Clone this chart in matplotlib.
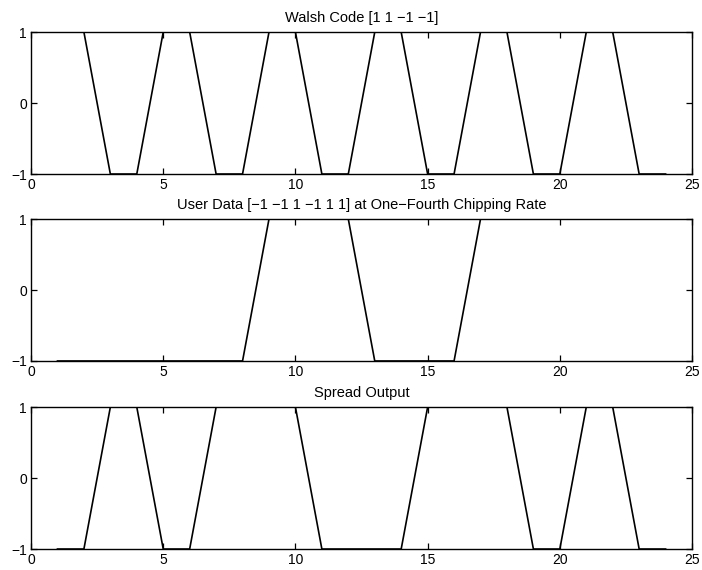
import matplotlib as mpl
mpl.use('Agg')
import matplotlib.pyplot as plt
import numpy as np

# chip index 1..24
x = np.arange(1, 25)
walsh = [1, 1, -1, -1, 1, 1, -1, -1, 1, 1, -1, -1,
         1, 1, -1, -1, 1, 1, -1, -1, 1, 1, -1, -1]
user_data = [-1, -1, -1, -1, -1, -1, -1, -1, 1, 1, 1, 1,
             -1, -1, -1, -1, 1, 1, 1, 1, 1, 1, 1, 1]
spread = [-1, -1, 1, 1, -1, -1, 1, 1, 1, 1, -1, -1,
          -1, -1, 1, 1, 1, 1, -1, -1, 1, 1, -1, -1]

titles = ['Walsh Code [1 1 \u22121 \u22121]',
          'User Data [\u22121 \u22121 1 \u22121 1 1] at One\u2212Fourth Chipping Rate',
          'Spread Output']
series = [walsh, user_data, spread]

plt.rcParams['font.family'] = ['Liberation Sans', 'DejaVu Sans']
plt.rcParams['font.size'] = 10
plt.rcParams['axes.unicode_minus'] = True

fig = plt.figure(figsize=(7.02, 5.70), dpi=100)
bottoms = [0.6947, 0.3667, 0.0368]
for b, y, t in zip(bottoms, series, titles):
    ax = fig.add_axes([0.0442, b, 0.9416, 0.249])
    ax.plot(x, y, color='black', linewidth=1.2)
    ax.set_xlim(0, 25)
    ax.set_ylim(-1, 1)
    ax.set_xticks([0, 5, 10, 15, 20, 25])
    ax.set_yticks([-1, 0, 1])
    ax.tick_params(direction='in', top=True, right=True, length=4,
                   width=0.9, pad=3, labelsize=10)
    for s in ax.spines.values():
        s.set_linewidth(1.0)
    ax.set_title(t, fontsize=10.5, pad=7.5)

plt.savefig('out.png', dpi=100)
